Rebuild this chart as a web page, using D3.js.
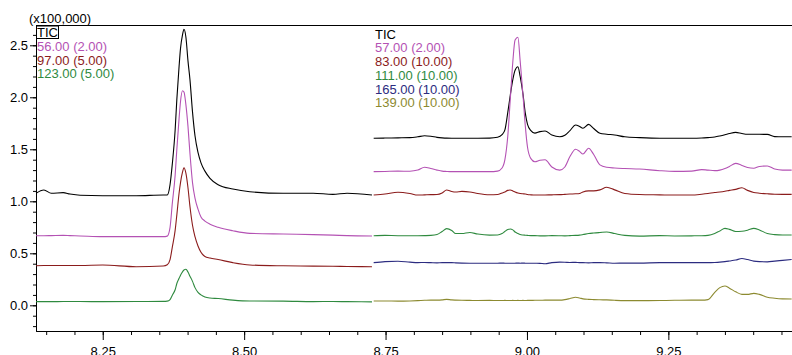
<!DOCTYPE html>
<html>
<head>
<meta charset="utf-8">
<script src="https://cdn.jsdelivr.net/npm/d3@7"></script>
<style>
  body { margin: 0; background: #fff; }
  svg { display: block; font-family: "Liberation Sans", Arial, sans-serif; }
  .axis text { font-size: 13px; fill: #000; }
  .axis path, .axis line { stroke: #000; }
</style>
</head>
<body>
<div id="chart"></div>
<script>
const width = 792;
const height = 355;
const margin = { left: 36, top: 25, right: 0, bottom: 24 };

// retention time (min) and intensity (x100,000), left segment
const leftTime = [8.132, 8.146, 8.159, 8.180, 8.192, 8.210, 8.250, 8.309, 8.357, 8.364,
  8.369, 8.373, 8.378, 8.381, 8.385, 8.3875, 8.391, 8.3936, 8.397, 8.4007,
  8.4042, 8.4087, 8.4131, 8.4184, 8.4237, 8.4307, 8.4396, 8.454, 8.480, 8.510,
  8.569, 8.622, 8.657, 8.682, 8.726];
const leftTIC = [1.077, 1.109, 1.077, 1.083, 1.070, 1.058, 1.054, 1.054, 1.060, 1.060,
  1.160, 1.360, 1.686, 1.980, 2.300, 2.470, 2.600, 2.654, 2.580, 2.350,
  2.170, 1.860, 1.630, 1.470, 1.370, 1.290, 1.220, 1.160, 1.118, 1.092,
  1.077, 1.077, 1.067, 1.077, 1.060];
const left56 = [0.669, 0.669, 0.670, 0.672, 0.670, 0.667, 0.660, 0.660, 0.660, 0.665,
  0.750, 0.980, 1.250, 1.500, 1.800, 1.960, 2.063, 2.050, 1.930, 1.720,
  1.460, 1.180, 1.030, 0.925, 0.850, 0.810, 0.780, 0.750, 0.717, 0.692,
  0.685, 0.680, 0.675, 0.670, 0.666];
const left97 = [0.381, 0.383, 0.383, 0.383, 0.383, 0.383, 0.387, 0.371, 0.378, 0.390,
  0.440, 0.560, 0.720, 0.870, 1.080, 1.180, 1.280, 1.323, 1.270, 1.130,
  0.950, 0.770, 0.660, 0.570, 0.510, 0.470, 0.455, 0.440, 0.410, 0.388,
  0.380, 0.377, 0.375, 0.373, 0.371];
const left123 = [0.035, 0.035, 0.035, 0.036, 0.036, 0.036, 0.035, 0.036, 0.038, 0.040,
  0.055, 0.097, 0.150, 0.210, 0.260, 0.290, 0.322, 0.340, 0.346, 0.320,
  0.280, 0.230, 0.170, 0.125, 0.100, 0.080, 0.070, 0.065, 0.050, 0.041,
  0.040, 0.035, 0.037, 0.035, 0.033];

// right segment
const rightTime = [8.729, 8.749, 8.772, 8.793, 8.807, 8.819, 8.830, 8.841, 8.850, 8.858,
  8.867, 8.874, 8.885, 8.899, 8.913, 8.934, 8.948, 8.956, 8.961, 8.966,
  8.9705, 8.975, 8.979, 8.984, 8.988, 8.993, 8.997, 9.001, 9.007, 9.014,
  9.023, 9.032, 9.044, 9.058, 9.067, 9.076, 9.086, 9.093, 9.099, 9.109,
  9.118, 9.129, 9.141, 9.155, 9.173, 9.199, 9.235, 9.261, 9.291, 9.309,
  9.320, 9.332, 9.341, 9.350, 9.358, 9.369, 9.380, 9.390, 9.401, 9.411,
  9.425, 9.438, 9.452, 9.468];
const rightTIC = [1.606, 1.608, 1.610, 1.612, 1.620, 1.630, 1.625, 1.615, 1.610, 1.607,
  1.606, 1.606, 1.606, 1.606, 1.606, 1.607, 1.615, 1.640, 1.686, 1.850,
  2.020, 2.170, 2.260, 2.294, 2.200, 2.030, 1.850, 1.740, 1.680, 1.655,
  1.670, 1.676, 1.638, 1.621, 1.635, 1.680, 1.734, 1.720, 1.702, 1.740,
  1.700, 1.654, 1.645, 1.638, 1.620, 1.612, 1.606, 1.606, 1.606, 1.608,
  1.612, 1.618, 1.628, 1.640, 1.652, 1.663, 1.652, 1.645, 1.644, 1.644,
  1.643, 1.622, 1.620, 1.620];
const right57 = [1.285, 1.287, 1.290, 1.289, 1.300, 1.327, 1.315, 1.300, 1.290, 1.287,
  1.285, 1.285, 1.285, 1.285, 1.285, 1.285, 1.290, 1.320, 1.400, 1.620,
  1.980, 2.340, 2.550, 2.577, 2.350, 2.020, 1.730, 1.520, 1.410, 1.380,
  1.395, 1.400, 1.330, 1.300, 1.330, 1.430, 1.500, 1.480, 1.455, 1.510,
  1.450, 1.350, 1.327, 1.320, 1.315, 1.310, 1.294, 1.288, 1.290, 1.305,
  1.300, 1.295, 1.300, 1.315, 1.335, 1.365, 1.345, 1.325, 1.318, 1.335,
  1.340, 1.310, 1.300, 1.300];
const right83 = [1.060, 1.070, 1.087, 1.075, 1.060, 1.062, 1.064, 1.065, 1.080, 1.109,
  1.095, 1.090, 1.095, 1.090, 1.075, 1.063, 1.065, 1.080, 1.090, 1.105,
  1.109, 1.100, 1.090, 1.080, 1.075, 1.072, 1.070, 1.065, 1.062, 1.060,
  1.060, 1.061, 1.062, 1.064, 1.067, 1.070, 1.072, 1.075, 1.090, 1.100,
  1.100, 1.110, 1.135, 1.110, 1.075, 1.065, 1.062, 1.060, 1.060, 1.068,
  1.075, 1.085, 1.090, 1.097, 1.105, 1.115, 1.130, 1.105, 1.085, 1.078,
  1.072, 1.068, 1.067, 1.067];
const right111 = [0.669, 0.672, 0.669, 0.669, 0.669, 0.670, 0.672, 0.680, 0.710, 0.737,
  0.720, 0.690, 0.690, 0.700, 0.685, 0.675, 0.676, 0.690, 0.710, 0.728,
  0.734, 0.725, 0.705, 0.690, 0.680, 0.676, 0.674, 0.672, 0.670, 0.670,
  0.668, 0.668, 0.670, 0.669, 0.668, 0.670, 0.672, 0.675, 0.680, 0.690,
  0.695, 0.700, 0.705, 0.690, 0.672, 0.665, 0.670, 0.667, 0.668, 0.669,
  0.672, 0.690, 0.715, 0.740, 0.730, 0.710, 0.712, 0.722, 0.740, 0.725,
  0.690, 0.680, 0.676, 0.676];
const right165 = [0.410, 0.420, 0.424, 0.415, 0.410, 0.412, 0.410, 0.408, 0.410, 0.410,
  0.410, 0.408, 0.406, 0.405, 0.405, 0.405, 0.405, 0.406, 0.405, 0.404,
  0.405, 0.404, 0.405, 0.406, 0.405, 0.406, 0.405, 0.404, 0.405, 0.404,
  0.403, 0.400, 0.410, 0.415, 0.414, 0.412, 0.413, 0.410, 0.410, 0.408,
  0.410, 0.410, 0.408, 0.405, 0.406, 0.406, 0.410, 0.410, 0.410, 0.410,
  0.410, 0.412, 0.415, 0.420, 0.426, 0.435, 0.450, 0.440, 0.425, 0.420,
  0.418, 0.425, 0.432, 0.440];
const right139 = [0.041, 0.042, 0.040, 0.042, 0.045, 0.048, 0.050, 0.050, 0.052, 0.057,
  0.052, 0.050, 0.048, 0.047, 0.046, 0.047, 0.046, 0.046, 0.047, 0.046,
  0.046, 0.047, 0.046, 0.047, 0.046, 0.047, 0.046, 0.047, 0.047, 0.048,
  0.048, 0.050, 0.050, 0.050, 0.055, 0.065, 0.077, 0.070, 0.062, 0.057,
  0.055, 0.053, 0.052, 0.048, 0.045, 0.045, 0.046, 0.048, 0.050, 0.050,
  0.055, 0.125, 0.170, 0.186, 0.165, 0.130, 0.105, 0.105, 0.115, 0.105,
  0.077, 0.068, 0.062, 0.060];

const leftLabels = ["TIC", "56.00 (2.00)", "97.00 (5.00)", "123.00 (5.00)"];
const rightLabels = ["TIC", "57.00 (2.00)", "83.00 (10.00)", "111.00 (10.00)", "165.00 (10.00)", "139.00 (10.00)"];
const xMajor = [8.25, 8.50, 8.75, 9.00, 9.25];
const yMajor = [0.0, 0.5, 1.0, 1.5, 2.0, 2.5];

const colors = {
  tic: "#000000",
  magenta: "#b452b4",
  red: "#8b1c1c",
  green: "#2f8a3f",
  navy: "#2c2c80",
  olive: "#8c8a30"
};

const leftSeries = [
  { label: leftLabels[0], color: colors.tic, values: leftTIC },
  { label: leftLabels[1], color: colors.magenta, values: left56 },
  { label: leftLabels[2], color: colors.red, values: left97 },
  { label: leftLabels[3], color: colors.green, values: left123 }
];
const rightSeries = [
  { label: rightLabels[0], color: colors.tic, values: rightTIC },
  { label: rightLabels[1], color: colors.magenta, values: right57 },
  { label: rightLabels[2], color: colors.red, values: right83 },
  { label: rightLabels[3], color: colors.green, values: right111 },
  { label: rightLabels[4], color: colors.navy, values: right165 },
  { label: rightLabels[5], color: colors.olive, values: right139 }
];

const svg = d3.select("#chart")
  .append("svg")
    .attr("width", width)
    .attr("height", height);

const x = d3.scaleLinear([8.132, 9.4686], [margin.left, width - margin.right]);
const y = d3.scaleLinear([-0.247, 2.695], [height - margin.bottom, margin.top]);

// minor ticks first, then major ones on top
const xMinor = d3.range(0, 27).map(i => +(8.15 + i * 0.05).toFixed(2));
const yMinor = d3.range(-2, 27).map(i => +(i * 0.1).toFixed(1));

svg.append("g")
  .attr("class", "axis")
  .attr("transform", `translate(0, ${height - margin.bottom})`)
  .call(d3.axisBottom(x).tickValues(xMinor).tickSize(4).tickSizeOuter(0).tickFormat(""));

svg.append("g")
  .attr("class", "axis")
  .attr("transform", `translate(0, ${height - margin.bottom})`)
  .call(d3.axisBottom(x).tickValues(xMajor).tickSize(9).tickSizeOuter(0).tickPadding(7).tickFormat(d3.format(".2f")));

svg.append("g")
  .attr("class", "axis")
  .attr("transform", `translate(${margin.left}, 0)`)
  .call(d3.axisLeft(y).tickValues(yMinor).tickSize(3).tickSizeOuter(0).tickFormat(""));

svg.append("g")
  .attr("class", "axis")
  .attr("transform", `translate(${margin.left}, 0)`)
  .call(d3.axisLeft(y).tickValues(yMajor).tickSize(6).tickSizeOuter(0).tickPadding(2).tickFormat(d3.format(".1f")));

// top frame line
svg.append("line")
  .attr("x1", margin.left)
  .attr("x2", width)
  .attr("y1", margin.top + 0.5)
  .attr("y2", margin.top + 0.5)
  .attr("stroke", "#000");

svg.append("text")
  .attr("x", 29)
  .attr("y", 22.5)
  .attr("font-size", 13)
  .text("(x100,000)");

const line = times => d3.line()
  .x((d, i) => x(times[i]))
  .y(d => y(d))
  .curve(d3.curveMonotoneX);

function drawTraces(series, times) {
  svg.append("g")
    .selectAll("path")
    .data(series)
    .join("path")
      .attr("fill", "none")
      .attr("stroke", d => d.color)
      .attr("stroke-width", 1.1)
      .attr("d", d => line(times)(d.values));
}

drawTraces(leftSeries, leftTime);
drawTraces(rightSeries, rightTime);

function drawLegend(series, x0, y0) {
  svg.append("g")
    .selectAll("text")
    .data(series)
    .join("text")
      .attr("x", x0)
      .attr("y", (d, i) => y0 + i * 13.75)
      .attr("font-size", 13)
      .attr("fill", d => d.color)
      .text(d => d.label);
}

drawLegend(leftSeries, 37, 37);
drawLegend(rightSeries, 375, 38.7);

// box around the first TIC label
svg.append("rect")
  .attr("x", 36.5)
  .attr("y", 26)
  .attr("width", 22)
  .attr("height", 12.5)
  .attr("fill", "none")
  .attr("stroke", "#000");
</script>
</body>
</html>
